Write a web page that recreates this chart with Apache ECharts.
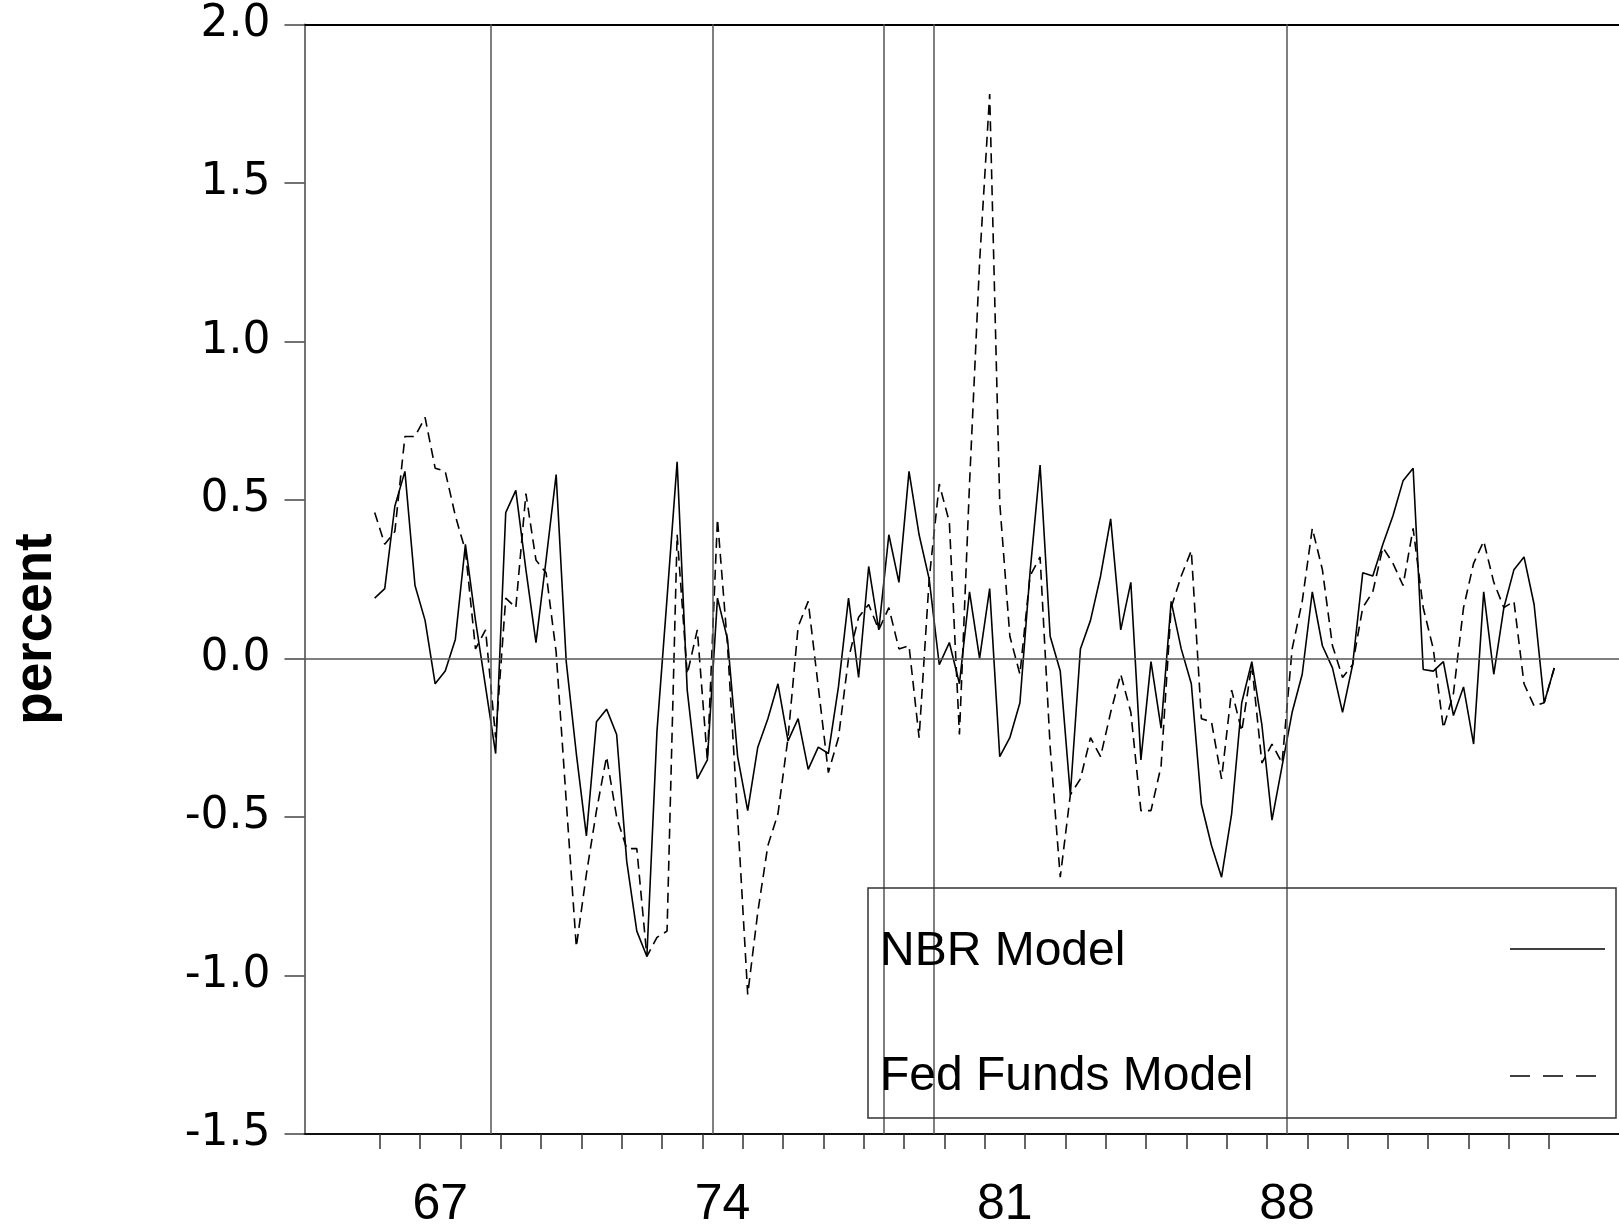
<!DOCTYPE html>
<html>
<head>
<meta charset="utf-8">
<script src="https://cdn.jsdelivr.net/npm/echarts@6/dist/echarts.min.js"></script>
<style>
html,body{margin:0;padding:0;background:#fff;}
#chart{width:1619px;height:1230px;}
</style>
</head>
<body>
<div id="chart"></div>
<script>
// ---- data (quarterly, first observation 1965Q4) ----
const startYear = 1965;
const startQuarter = 4;

const nbrModel = [
  0.19, 0.22, 0.48, 0.59, 0.23, 0.12, -0.08, -0.04, 0.06, 0.36,
  0.12, -0.09, -0.30, 0.46, 0.53, 0.28, 0.05, 0.31, 0.58, -0.01,
  -0.30, -0.56, -0.20, -0.16, -0.24, -0.64, -0.86, -0.94, -0.23, 0.19,
  0.62, -0.10, -0.38, -0.32, 0.19, 0.06, -0.31, -0.48, -0.28, -0.19,
  -0.08, -0.26, -0.19, -0.35, -0.28, -0.30, -0.09, 0.19, -0.06, 0.29,
  0.09, 0.39, 0.24, 0.59, 0.39, 0.25, -0.02, 0.05, -0.08, 0.21,
  0.00, 0.22, -0.31, -0.25, -0.14, 0.27, 0.61, 0.07, -0.04, -0.43,
  0.03, 0.12, 0.26, 0.44, 0.09, 0.24, -0.32, -0.01, -0.22, 0.18,
  0.03, -0.08, -0.46, -0.59, -0.69, -0.49, -0.14, -0.01, -0.21, -0.51,
  -0.34, -0.17, -0.05, 0.21, 0.04, -0.03, -0.17, -0.02, 0.27, 0.26,
  0.36, 0.45, 0.56, 0.60, -0.035, -0.04, -0.01, -0.18, -0.09, -0.27,
  0.21, -0.05, 0.16, 0.28, 0.32, 0.17, -0.14, -0.03
];

const fedFundsModel = [
  0.46, 0.36, 0.40, 0.70, 0.70, 0.76, 0.60, 0.59, 0.45, 0.34,
  0.03, 0.09, -0.25, 0.19, 0.16, 0.52, 0.31, 0.27, 0.02, -0.45,
  -0.91, -0.68, -0.48, -0.31, -0.50, -0.60, -0.60, -0.94, -0.88, -0.86,
  0.39, -0.05, 0.09, -0.32, 0.44, 0.04, -0.50, -1.06, -0.80, -0.59,
  -0.49, -0.25, 0.10, 0.18, -0.09, -0.36, -0.25, 0.00, 0.13, 0.17,
  0.09, 0.16, 0.03, 0.04, -0.25, 0.25, 0.55, 0.43, -0.24, 0.55,
  1.25, 1.78, 0.49, 0.07, -0.05, 0.26, 0.32, -0.28, -0.69, -0.43,
  -0.38, -0.25, -0.31, -0.17, -0.05, -0.17, -0.48, -0.48, -0.34, 0.16,
  0.26, 0.34, -0.19, -0.20, -0.38, -0.10, -0.23, -0.02, -0.33, -0.27,
  -0.33, 0.03, 0.18, 0.41, 0.28, 0.04, -0.06, -0.02, 0.16, 0.21,
  0.35, 0.30, 0.23, 0.41, 0.16, 0.03, -0.22, -0.11, 0.16, 0.30,
  0.37, 0.24, 0.16, 0.18, -0.08, -0.15, -0.14, -0.03
];

const seriesNames = ['NBR Model', 'Fed Funds Model'];

// policy dates marked with vertical lines (quarters)
const policyDates = ['1968Q4', '1974Q2', '1978Q3', '1979Q4', '1988Q3'];

// x axis: year boundary ticks and year labels
const yearTicks = [1966, 1967, 1968, 1969, 1970, 1971, 1972, 1973, 1974, 1975,
  1976, 1977, 1978, 1979, 1980, 1981, 1982, 1983, 1984, 1985,
  1986, 1987, 1988, 1989, 1990, 1991, 1992, 1993, 1994, 1995];
const labelYears = [1967, 1974, 1981, 1988];
const labelTexts = ['67', '74', '81', '88'];

// y axis
const yMin = -1.5, yMax = 2.0, yStep = 0.5;
const yName = 'percent';

// ---- helpers ----
function quarterMid(idx) {
  const q0 = startQuarter - 1 + idx;
  const y = startYear + Math.floor(q0 / 4);
  const q = q0 % 4;
  return y + q / 4 + 0.125;
}
function quarterStart(label) {
  const y = parseInt(label.slice(0, 4), 10);
  const q = parseInt(label.slice(5), 10);
  return y + (q - 1) / 4;
}

const nbrData = nbrModel.map((v, i) => [quarterMid(i), v]);
const ffData = fedFundsModel.map((v, i) => [quarterMid(i), v]);
const labelPos = labelYears.map(y => y + 0.5);

const chart = echarts.init(document.getElementById('chart'), null, {renderer: 'canvas'});

const legendFont = '48px "Liberation Sans", Arial, sans-serif';

const option = {
  animation: false,
  backgroundColor: '#ffffff',
  grid: {left: 304.5, right: 0, top: 24.3, bottom: 95.5, containLabel: false, show: false},
  xAxis: {
    type: 'value',
    min: 1964.135,
    max: 1996.73,
    axisLine: {show: true, onZero: false, lineStyle: {color: '#111', width: 2}},
    axisTick: {show: true, inside: false, length: 15, customValues: yearTicks,
      lineStyle: {color: '#333', width: 1.5}},
    axisLabel: {
      show: true, customValues: labelPos, margin: 46,
      fontFamily: 'Liberation Sans, Arial, sans-serif', fontSize: 50, color: '#000',
      formatter: function (v) {
        const k = labelPos.findIndex(p => Math.abs(p - v) < 1e-6);
        return k >= 0 ? labelTexts[k] : '';
      }
    },
    splitLine: {show: false}
  },
  yAxis: {
    type: 'value',
    min: yMin, max: yMax, interval: yStep,
    axisLine: {show: true, lineStyle: {color: '#444', width: 1.5}},
    axisTick: {show: true, inside: false, length: 20, lineStyle: {color: '#444', width: 1.5}},
    axisLabel: {
      margin: 34, fontFamily: 'DejaVu Sans, sans-serif', fontSize: 44, color: '#000',
      formatter: v => v.toFixed(1)
    },
    splitLine: {show: false}
  },
  graphic: [
    {
      type: 'text', x: 36, y: 629, rotation: Math.PI / 2,
      style: {
        text: yName, fill: '#000',
        font: 'bold 53px "Liberation Sans", Arial, sans-serif',
        textAlign: 'center', textVerticalAlign: 'middle'
      },
      z: 10
    },
    {
      type: 'rect', shape: {x: 868, y: 888, width: 748, height: 230},
      style: {fill: 'none', stroke: '#333', lineWidth: 1.5}, z: 10
    },
    {
      type: 'text', x: 880, y: 952,
      style: {text: seriesNames[0], fill: '#000', font: legendFont,
        textAlign: 'left', textVerticalAlign: 'middle'}, z: 10
    },
    {
      type: 'text', x: 880, y: 1077,
      style: {text: seriesNames[1], fill: '#000', font: legendFont,
        textAlign: 'left', textVerticalAlign: 'middle'}, z: 10
    },
    {
      type: 'line', shape: {x1: 1510, y1: 949, x2: 1605, y2: 949},
      style: {stroke: '#000', lineWidth: 1.5}, z: 10
    },
    {
      type: 'line', shape: {x1: 1510, y1: 1076, x2: 1597, y2: 1076},
      style: {stroke: '#000', lineWidth: 1.5, lineDash: [20, 13]}, z: 10
    }
  ],
  series: [
    {
      name: seriesNames[0], type: 'line', data: nbrData,
      symbol: 'none', smooth: false,
      lineStyle: {color: '#000', width: 1.6, type: 'solid'},
      itemStyle: {color: '#000'},
      z: 3,
      markLine: {
        silent: true, symbol: ['none', 'none'], animation: false,
        label: {show: false},
        data: [
          {yAxis: 0, lineStyle: {color: '#555', width: 1.5, type: 'solid'}},
          {yAxis: yMax, lineStyle: {color: '#000', width: 2, type: 'solid'}}
        ].concat(policyDates.map(d => ({xAxis: quarterStart(d),
          lineStyle: {color: '#555', width: 1.5, type: 'solid'}})))
      }
    },
    {
      name: seriesNames[1], type: 'line', data: ffData,
      symbol: 'none', smooth: false,
      lineStyle: {color: '#000', width: 1.6, type: [10, 6]},
      itemStyle: {color: '#000'},
      z: 3
    }
  ]
};
chart.setOption(option);
</script>
</body>
</html>
